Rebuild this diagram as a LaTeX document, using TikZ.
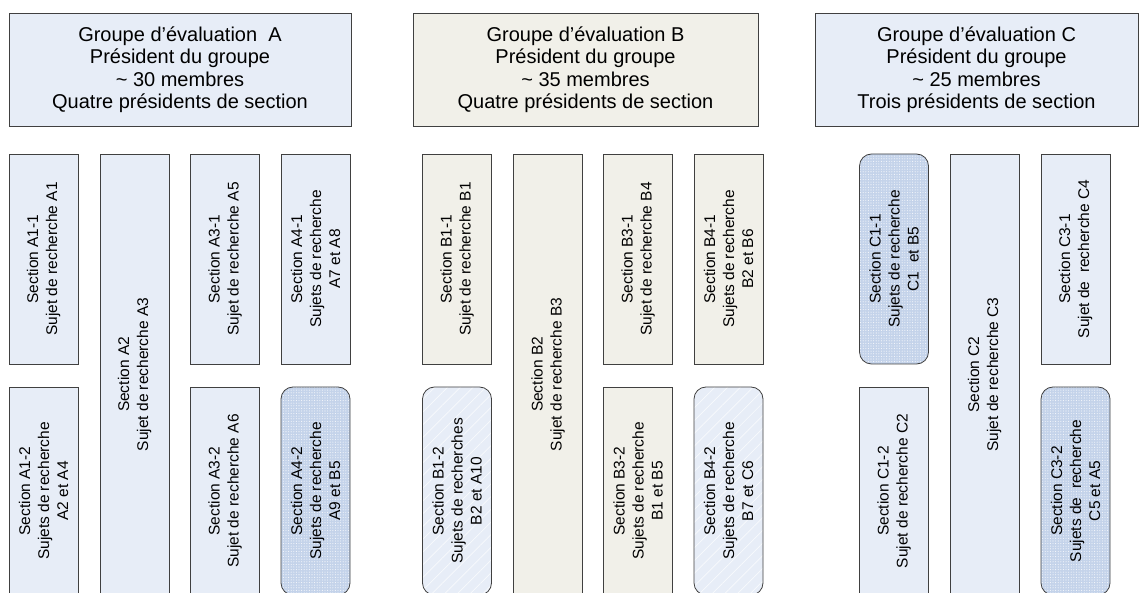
\documentclass[tikz,border=0pt]{standalone}
\usepackage{fontspec}
\setmainfont{Liberation Sans}
\usetikzlibrary{patterns.meta}
\definecolor{blueF}{HTML}{E7EDF7}
\definecolor{beigeF}{HTML}{F1F0E9}
\definecolor{dotF}{HTML}{C4D3EA}
\definecolor{edge}{HTML}{404040}
\begin{document}
\begin{tikzpicture}[x=1pt,y=-1pt,
  box/.style={draw=edge, line width=0.8pt, inner sep=0pt, align=center},
  hdr/.style={box, minimum height=113pt, font=\fontsize{20}{22.5}\selectfont},
  sec/.style={box, rotate=90, minimum height=69pt, font=\fontsize{15.5}{19}\selectfont},
  topbox/.style={sec, minimum width=210pt},
  botbox/.style={sec, minimum width=208pt},
  tallbox/.style={sec, minimum width=441pt},
  bl/.style={fill=blueF},
  be/.style={fill=beigeF},
  dotted box/.style={rounded corners=12pt, preaction={fill=dotF},
    pattern={Dots[radius=0.55pt, distance=2.6pt]}, pattern color=white!85!dotF},
  striped box/.style={rounded corners=12pt, preaction={fill=blueF},
    pattern={Lines[angle=45, distance=9pt, line width=0.7pt]}, pattern color=white!70!blueF}
]
\useasboundingbox (0,0) rectangle (1141,593);
\clip (0,0) rectangle (1141,593);

% headers
\node[hdr, bl, minimum width=342pt] (hA) at (180,69.5)
  {Groupe d’évaluation\ \ A\\Président du groupe\\\textasciitilde{} 30 membres\\Quatre présidents de section};
\node[hdr, be, minimum width=345pt] (hB) at (585.5,69.5)
  {Groupe d’évaluation B\\Président du groupe\\\textasciitilde{} 35 membres\\Quatre présidents de section};
\node[hdr, bl, minimum width=323pt] (hC) at (976.5,69.5)
  {Groupe d’évaluation C\\Président du groupe\\\textasciitilde{} 25 membres\\Trois présidents de section};

% group A
\node[topbox, bl] (a11) at (43.5,259) {Section A1-1\\Sujet de recherche A1};
\node[botbox, bl] (a12) at (43.5,491) {Section A1-2\\Sujets de recherche\\A2 et A4};
\node[tallbox, bl] (a2) at (134.5,374.5) {Section A2\\Sujet de recherche A3};
\node[topbox, bl] (a31) at (225,259) {Section A3-1\\Sujet de recherche A5};
\node[botbox, bl] (a32) at (225,491) {Section A3-2\\Sujet de recherche A6};
\node[topbox, bl] (a41) at (315.5,259) {Section A4-1\\Sujets de recherche\\A7 et A8};
\node[botbox, dotted box] (a42) at (315.5,491) {Section A4-2\\Sujets de recherche\\A9 et B5};

% group B
\node[topbox, be] (b11) at (457,259) {Section B1-1\\Sujet de recherche B1};
\node[botbox, striped box] (b12) at (457,491) {Section B1-2\\Sujets de recherches\\B2 et A10};
\node[tallbox, be] (b2) at (548,374.5) {Section B2\\Sujet de recherche B3};
\node[topbox, be] (b31) at (638,259) {Section B3-1\\Sujet de recherche B4};
\node[botbox, be] (b32) at (638,491) {Section B3-2\\Sujets de recherche\\B1 et B5};
\node[topbox, be] (b41) at (728.5,259) {Section B4-1\\Sujets de recherche\\B2 et B6};
\node[botbox, striped box] (b42) at (728.5,491) {Section B4-2\\Sujets de recherche\\B7 et C6};

% group C
\node[topbox, dotted box] (c11) at (894,259) {Section C1-1\\Sujets de recherche\\C1\ \ et B5};
\node[botbox, bl] (c12) at (894,491) {Section C1-2\\Sujet de recherche C2};
\node[tallbox, bl] (c2) at (984.5,374.5) {Section C2\\Sujet de recherche C3};
\node[topbox, bl] (c31) at (1075.5,259) {Section C3-1\\Sujet de\ \ recherche C4};
\node[botbox, dotted box] (c32) at (1075.5,491) {Section C3-2\\Sujets de\ \ recherche\\C5 et A5};
\end{tikzpicture}
\end{document}
